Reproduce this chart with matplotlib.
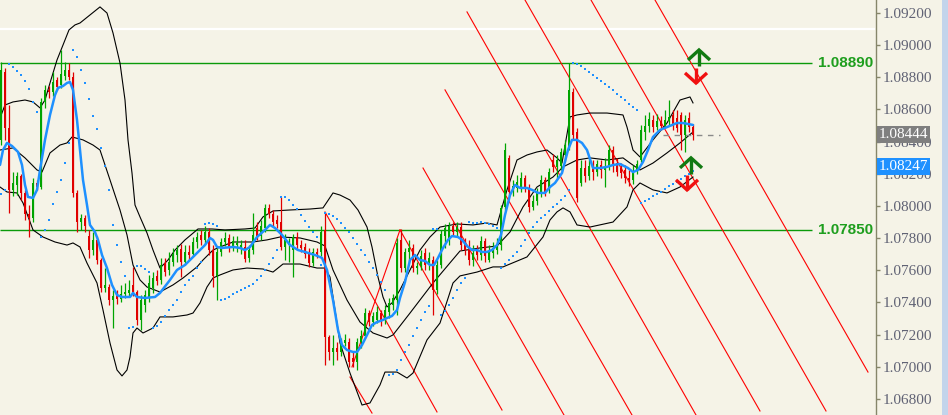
import matplotlib
matplotlib.use('Agg')
import matplotlib.pyplot as plt
from matplotlib.lines import Line2D
from matplotlib.patches import Rectangle
from matplotlib.transforms import IdentityTransform
import numpy as np

# ---------------- data (EURUSD-like candles) ----------------
opens = [1.08411,1.08833,1.08485,1.08100,1.08131,1.08187,1.08081,1.07950,1.07925,1.08143,
1.08118,1.08647,1.08722,1.08709,1.08784,1.08753,1.08809,1.08846,1.08802,1.08081,
1.07900,1.07925,1.07813,1.07726,1.07789,1.07664,1.07490,1.07496,1.07415,1.07440,
1.07422,1.07453,1.07459,1.07509,1.07465,1.07291,1.07384,1.07428,1.07490,1.07565,
1.07540,1.07645,1.07602,1.07652,1.07695,1.07733,1.07652,1.07714,1.07701,1.07776,
1.07820,1.07789,1.07838,1.07726,1.07565,1.07714,1.07776,1.07801,1.07739,1.07757,
1.07739,1.07745,1.07677,1.07726,1.07863,1.07813,1.07863,1.07988,1.07950,1.07913,
1.07900,1.07745,1.07757,1.07726,1.07807,1.07757,1.07745,1.07714,1.07645,1.07714,
1.07714,1.07851,1.07185,1.07092,1.07117,1.07092,1.07148,1.07154,1.07055,1.07030,
1.07154,1.07191,1.07334,1.07278,1.07291,1.07334,1.07291,1.07341,1.07384,1.07415,
1.07789,1.07614,1.07714,1.07739,1.07614,1.07627,1.07708,1.07633,1.07664,1.07478,
1.07633,1.07813,1.07789,1.07876,1.07838,1.07869,1.07776,1.07739,1.07664,1.07726,
1.07695,1.07782,1.07664,1.07708,1.07726,1.07757,1.07994,1.08299,1.08087,1.08112,
1.08112,1.08174,1.08112,1.07994,1.08031,1.08075,1.08162,1.08112,1.08286,1.08243,
1.08249,1.08317,1.08367,1.08709,1.08460,1.08143,1.08236,1.08187,1.08249,1.08211,
1.08255,1.08224,1.08243,1.08348,1.08267,1.08236,1.08224,1.08174,1.08162,1.08218,
1.08286,1.08460,1.08498,1.08535,1.08491,1.08529,1.08498,1.08529,1.08566,1.08547,
1.08566,1.08442,1.08547,1.08491]
highs = [1.08896,1.08858,1.08628,1.08211,1.08211,1.08199,1.08100,1.08006,1.08174,1.08162,
1.08672,1.08753,1.08746,1.08833,1.08802,1.08970,1.08896,1.08889,1.08833,1.08100,
1.07950,1.07944,1.07851,1.07838,1.07813,1.07677,1.07614,1.07515,1.07478,1.07478,
1.07509,1.07521,1.07540,1.07621,1.07478,1.07446,1.07478,1.07571,1.07589,1.07602,
1.07677,1.07677,1.07714,1.07739,1.07757,1.07764,1.07757,1.07757,1.07807,1.07838,
1.07851,1.07876,1.07863,1.07757,1.07739,1.07801,1.07838,1.07826,1.07813,1.07813,
1.07789,1.07789,1.07757,1.07956,1.07900,1.07913,1.08012,1.08012,1.07975,1.07944,
1.08056,1.07826,1.07801,1.07826,1.07838,1.07789,1.07770,1.07739,1.07739,1.07739,
1.07876,1.07963,1.07198,1.07198,1.07154,1.07179,1.07204,1.07179,1.07092,1.07179,
1.07229,1.07366,1.07353,1.07341,1.07378,1.07353,1.07384,1.07428,1.07453,1.07801,
1.07857,1.07739,1.07789,1.07764,1.07652,1.07726,1.07739,1.07714,1.07689,1.07664,
1.07851,1.07888,1.07900,1.07900,1.07900,1.07900,1.07801,1.07789,1.07757,1.07757,
1.07813,1.07801,1.07757,1.07776,1.07801,1.08006,1.08392,1.08317,1.08162,1.08193,
1.08211,1.08193,1.08137,1.08068,1.08112,1.08193,1.08180,1.08236,1.08323,1.08317,
1.08361,1.08411,1.08889,1.08734,1.08485,1.08286,1.08286,1.08299,1.08286,1.08286,
1.08286,1.08299,1.08379,1.08373,1.08299,1.08267,1.08255,1.08224,1.08255,1.08286,
1.08504,1.08566,1.08585,1.08566,1.08572,1.08560,1.08597,1.08659,1.08597,1.08597,
1.08585,1.08566,1.08585,1.08510]
lows = [1.08379,1.08411,1.07956,1.08062,1.08068,1.08037,1.07913,1.07807,1.07900,1.08100,
1.08106,1.08610,1.08672,1.08684,1.08722,1.08734,1.08784,1.08784,1.08056,1.07838,
1.07851,1.07838,1.07677,1.07695,1.07639,1.07465,1.07465,1.07384,1.07241,1.07390,
1.07403,1.07428,1.07440,1.07440,1.07260,1.07229,1.07341,1.07403,1.07459,1.07509,
1.07515,1.07565,1.07571,1.07627,1.07652,1.07558,1.07633,1.07664,1.07689,1.07739,
1.07757,1.07764,1.07695,1.07496,1.07415,1.07689,1.07751,1.07714,1.07720,1.07714,
1.07701,1.07652,1.07652,1.07701,1.07789,1.07789,1.07838,1.07925,1.07876,1.07863,
1.07726,1.07664,1.07652,1.07558,1.07726,1.07714,1.07677,1.07621,1.07627,1.07677,
1.07689,1.07011,1.07042,1.07011,1.07042,1.07067,1.07129,1.06999,1.06999,1.06980,
1.07117,1.07179,1.07254,1.07254,1.07272,1.07254,1.07266,1.07303,1.07353,1.07322,
1.07589,1.07589,1.07652,1.07589,1.07577,1.07602,1.07602,1.07602,1.07322,1.07453,
1.07614,1.07739,1.07757,1.07813,1.07813,1.07726,1.07695,1.07633,1.07627,1.07664,
1.07664,1.07652,1.07652,1.07677,1.07701,1.07726,1.07975,1.08062,1.08062,1.08087,
1.08087,1.08087,1.07963,1.07975,1.08006,1.08056,1.08062,1.08081,1.08211,1.08174,
1.08224,1.08274,1.08348,1.08411,1.08025,1.08124,1.08149,1.08162,1.08162,1.08187,
1.08174,1.08118,1.08224,1.08211,1.08187,1.08174,1.08143,1.08124,1.08137,1.08199,
1.08274,1.08411,1.08460,1.08460,1.08473,1.08473,1.08485,1.08498,1.08473,1.08460,
1.08348,1.08336,1.08460,1.08411]
closes = [1.08846,1.08485,1.08100,1.08143,1.08187,1.08081,1.07950,1.07925,1.08143,1.08118,
1.08647,1.08722,1.08709,1.08771,1.08740,1.08821,1.08846,1.08802,1.08081,1.07900,
1.07925,1.07876,1.07726,1.07789,1.07664,1.07490,1.07509,1.07415,1.07440,1.07422,
1.07453,1.07465,1.07478,1.07465,1.07291,1.07415,1.07446,1.07521,1.07552,1.07534,
1.07633,1.07589,1.07652,1.07701,1.07726,1.07652,1.07714,1.07695,1.07776,1.07807,
1.07789,1.07838,1.07726,1.07565,1.07714,1.07776,1.07801,1.07739,1.07782,1.07770,
1.07757,1.07670,1.07726,1.07820,1.07813,1.07876,1.07988,1.07950,1.07900,1.07888,
1.07745,1.07789,1.07776,1.07807,1.07757,1.07739,1.07701,1.07645,1.07714,1.07701,
1.07838,1.07185,1.07092,1.07117,1.07092,1.07148,1.07167,1.07030,1.07030,1.07154,
1.07191,1.07334,1.07278,1.07316,1.07341,1.07291,1.07353,1.07397,1.07428,1.07770,
1.07614,1.07714,1.07739,1.07614,1.07627,1.07689,1.07633,1.07677,1.07478,1.07633,
1.07826,1.07863,1.07876,1.07838,1.07869,1.07757,1.07726,1.07664,1.07708,1.07695,
1.07782,1.07689,1.07714,1.07739,1.07757,1.07988,1.08348,1.08087,1.08124,1.08149,
1.08174,1.08112,1.07994,1.08031,1.08081,1.08162,1.08087,1.08211,1.08243,1.08286,
1.08336,1.08379,1.08722,1.08442,1.08050,1.08236,1.08187,1.08249,1.08211,1.08261,
1.08224,1.08236,1.08348,1.08255,1.08211,1.08205,1.08174,1.08162,1.08218,1.08261,
1.08473,1.08498,1.08541,1.08491,1.08529,1.08498,1.08535,1.08554,1.08498,1.08485,
1.08442,1.08535,1.08491,1.08444]

# Bollinger bands (bar position -> price)
bb_up_x = [-0.25,1,3,6,8,9.75,11,12.25,14,15.5,17,18.5,19.75,22.25,24.75,26.5,28,29.75,31,31.75,
32.75,33.5,34.75,36.5,38,39.75,41.75,43.5,46,49.25,52.75,56,61,63.5,65.5,68,72.25,77.25,80.5,81.5,
83,84.75,87.25,89.25,91.5,92.75,94.25,95.5,96.5,97.75,99.75,102.25,104.75,107.25,109.75,114,118,121.5,124,126.5,
129,131.5,134,136.5,139,140.25,141.25,142.25,144,147.25,151.5,155.5,156.5,158,159.75,163,166.5,169.75,172.25,173]
bb_up_y = [1.08547,1.08628,1.08647,1.08659,1.08647,1.08610,1.08659,1.08765,1.08908,1.09001,
1.09095,1.09126,1.09138,1.09188,1.09238,1.09200,1.09076,1.08889,1.08659,1.08411,
1.08205,1.08006,1.07932,1.07832,1.07726,1.07614,1.07664,1.07726,1.07789,1.07857,
1.07857,1.07851,1.07857,1.07863,1.07932,1.07969,1.07975,1.07981,1.07988,1.08025,
1.08081,1.08068,1.08037,1.07975,1.07869,1.07745,1.07558,1.07434,1.07372,1.07397,
1.07478,1.07602,1.07726,1.07807,1.07869,1.07888,1.07882,1.07894,1.07882,1.08100,
1.08286,1.08317,1.08336,1.08348,1.08299,1.08267,1.08411,1.08554,1.08566,1.08578,
1.08578,1.08566,1.08491,1.08348,1.08305,1.08411,1.08516,1.08659,1.08678,1.08641]
bb_mid_x = [-0.25,3,6,9,10.25,12.25,14.75,16.5,17.75,20.5,23,24.75,26,27.25,28.5,29.75,31.5,33,34.75,36.5,
39.75,43,45.5,49,50.5,53,54.75,58,63,66.5,69.75,74.75,79,81,83,86.5,89.75,93,96.5,98,
102.25,108,114.75,119.75,124,127.25,130.5,134,138,140.5,144,147.25,151.5,155.5,157.25,159.75,163,166.5,169.75,173]
bb_mid_y = [1.08348,1.08361,1.08299,1.08224,1.08211,1.08330,1.08379,1.08392,1.08429,1.08411,
1.08379,1.08348,1.08255,1.08162,1.08068,1.07975,1.07820,1.07633,1.07540,1.07496,
1.07465,1.07509,1.07552,1.07621,1.07664,1.07726,1.07745,1.07776,1.07776,1.07789,
1.07807,1.07801,1.07776,1.07751,1.07602,1.07415,1.07278,1.07210,1.07179,1.07198,
1.07334,1.07521,1.07720,1.07739,1.07751,1.07838,1.07994,1.08118,1.08180,1.08243,
1.08286,1.08299,1.08286,1.08299,1.08267,1.08224,1.08267,1.08330,1.08392,1.08460]
bb_low_x = [-0.25,1.5,4,5.5,8,10.5,13.5,16.5,18,19.75,21.5,24,25.5,27.25,29,30.25,31.5,32.25,33,34,
35.5,38,39.75,43,46.5,48,49.75,51.5,53,54.75,58,61.5,65.5,68,70.5,74.75,79,81,82.25,84.75,
87.25,90.25,92.25,94.75,96,99,101.5,103,106.5,109.75,113,114.75,119,123,125.5,131.5,135.5,137.25,139,140.5,
142.25,144,147.25,153,156.5,158,159.75,163,166.5,169.75,173]
bb_low_y = [1.08118,1.08087,1.08081,1.08019,1.07851,1.07807,1.07776,1.07757,1.07770,1.07745,
1.07645,1.07521,1.07353,1.07148,1.06980,1.06943,1.06980,1.07061,1.07210,1.07241,
1.07210,1.07241,1.07310,1.07310,1.07322,1.07334,1.07397,1.07496,1.07552,1.07571,
1.07602,1.07614,1.07608,1.07589,1.07639,1.07639,1.07614,1.07614,1.07558,1.07148,
1.06961,1.06762,1.06775,1.06887,1.06967,1.06967,1.06930,1.06961,1.07167,1.07272,
1.07521,1.07565,1.07589,1.07621,1.07621,1.07683,1.07807,1.07913,1.07963,1.07988,
1.07963,1.07882,1.07869,1.07900,1.07994,1.08100,1.08143,1.08100,1.08081,1.08118,
1.08180]

# fast moving average (blue line)
ma_x = [-0.25,0.5,1.5,2.75,4.25,5.25,6,6.75,8,9,9.75,11,12.25,13.5,14.25,15.5,16.5,17.25,18,19,
19.75,20.5,21.5,22.25,23.5,24.25,25.25,26.5,27.75,29,30.25,32.25,33,34,36,38.5,39.75,42.25,44,46,
48.5,51,52.25,53,54,55.25,58,59.75,61,62.25,64,66,67.25,68.5,70.25,72.25,74.25,76,78.5,80.25,
81.5,83,84.25,85.25,86.5,88,89,90.25,91.5,92.75,94,95.5,96.5,97.75,99,99.75,101,102.25,103.5,104.75,
106,107.25,108.25,109.25,110.5,111.75,112.75,114.25,115.25,116.5,117.75,119,120.25,121.5,122.75,124,125,126,127.25,128.5,
129.75,131.5,132.75,134.25,136,137.25,138.5,140.25,141.75,142.75,144,145.25,146.5,148,149.75,151.5,153,154.75,156.75,158,
159.25,160.5,161.75,163,164.75,166.5,169,170.5,173]
ma_y = [1.08255,1.08348,1.08392,1.08373,1.08336,1.08255,1.08131,1.08056,1.08050,1.08100,
1.08224,1.08411,1.08566,1.08690,1.08734,1.08746,1.08765,1.08771,1.08722,1.08535,
1.08348,1.08162,1.08006,1.07882,1.07838,1.07789,1.07695,1.07614,1.07509,1.07446,
1.07434,1.07434,1.07459,1.07434,1.07428,1.07434,1.07459,1.07540,1.07602,1.07633,
1.07695,1.07757,1.07801,1.07789,1.07745,1.07739,1.07745,1.07739,1.07726,1.07745,
1.07807,1.07851,1.07882,1.07863,1.07820,1.07757,1.07726,1.07714,1.07695,1.07677,
1.07602,1.07415,1.07229,1.07135,1.07104,1.07092,1.07092,1.07135,1.07198,1.07260,
1.07278,1.07291,1.07303,1.07316,1.07353,1.07428,1.07527,1.07664,1.07695,1.07664,
1.07658,1.07633,1.07633,1.07677,1.07739,1.07789,1.07813,1.07807,1.07789,1.07751,
1.07726,1.07726,1.07714,1.07714,1.07726,1.07757,1.07820,1.07944,1.08068,1.08131,
1.08112,1.08112,1.08100,1.08081,1.08081,1.08118,1.08143,1.08205,1.08348,1.08411,
1.08411,1.08392,1.08348,1.08236,1.08236,1.08243,1.08255,1.08261,1.08236,1.08211,
1.08224,1.08274,1.08348,1.08429,1.08473,1.08491,1.08516,1.08516,1.08504]

# parabolic SAR, one dot per bar
sar = [1.08075,1.08100,1.08883,1.08865,1.08840,1.08815,1.08778,1.08728,1.08647,1.08585,
1.07807,1.07851,1.07913,1.08012,1.08087,1.08162,1.08267,1.08392,1.08970,1.08927,
1.08846,1.08765,1.08666,1.08560,1.08479,1.08361,1.08249,1.08100,1.07882,1.07757,
1.07652,1.07565,1.07241,1.07247,1.07627,1.07627,1.07608,1.07589,1.07241,1.07254,
1.07278,1.07316,1.07353,1.07384,1.07415,1.07465,1.07509,1.07540,1.07565,1.07614,
1.07652,1.07888,1.07894,1.07888,1.07876,1.07415,1.07422,1.07434,1.07453,1.07465,
1.07478,1.07490,1.07502,1.07515,1.07540,1.07565,1.07602,1.07639,1.07677,1.07726,
1.08056,1.08056,1.08037,1.08006,1.07981,1.07944,1.07907,1.07869,1.07838,1.07807,
1.07633,1.07956,1.07950,1.07938,1.07919,1.07894,1.07863,1.07838,1.07801,1.07764,
1.07726,1.07695,1.07652,1.07614,1.07571,1.07527,1.07478,1.06949,1.06955,1.06980,
1.07042,1.07092,1.07135,1.07191,1.07241,1.07291,1.07341,1.07378,1.07857,1.07857,
1.07322,1.07347,1.07384,1.07428,1.07478,1.07521,1.07552,1.07900,1.07894,1.07894,
1.07900,1.07894,1.07888,1.07876,1.07863,1.07614,1.07639,1.07664,1.07689,1.07714,
1.07751,1.07789,1.07832,1.07869,1.07900,1.07925,1.07944,1.07969,1.07994,1.08012,
1.08037,1.08062,1.08100,1.08889,1.08883,1.08871,1.08852,1.08833,1.08815,1.08796,
1.08778,1.08759,1.08740,1.08722,1.08697,1.08678,1.08659,1.08634,1.08616,1.08597,
1.08019,1.08031,1.08044,1.08062,1.08075,1.08087,1.08106,1.08124,1.08137,1.08149,
1.08168,1.08187,1.08199,1.08218]

# red trend/channel lines (start bar, start price, end bar, end price)
red_x0 = [163.5, 147.5, 131.0, 116.5, 111.0, 105.5, 99.75, 81.0, 87.25, 87.75]
red_y0 = [1.09281, 1.09281, 1.09281, 1.09207, 1.08722, 1.08236, 1.07851, 1.07963, 1.06936, 1.06999]
red_x1 = [216.75, 206.25, 189.75, 173.75, 157.75, 140.75, 125.25, 109.0, 92.75, 99.75]
red_y1 = [1.06967, 1.06725, 1.06725, 1.06700, 1.06700, 1.06700, 1.06731, 1.06719, 1.06712, 1.07851]

levels = [1.08890, 1.07850]
level_labels = ["1.08890", "1.07850"]
white_level = 1.09100
bid_price = 1.08444
ask_price = 1.08247
bid_label = "1.08444"
ask_label = "1.08247"

arrow_bar = [174.5, 173.75, 172.5, 171.5]
arrow_price = [1.08970, 1.08765, 1.08299, 1.08100]
arrow_dir = ["up", "down", "up", "down"]

yticks = [1.068, 1.070, 1.072, 1.074, 1.076, 1.078, 1.080, 1.082, 1.084, 1.086, 1.088, 1.090, 1.092]

# ---------------- drawing ----------------
BG = '#F5F3E7'
W, H = 948, 415
fig = plt.figure(figsize=(W / 100, H / 100), dpi=100)
fig.patch.set_facecolor(BG)
ax = fig.add_axes([0, 0, 876 / W, 1])
ax.set_facecolor(BG)
ax.set_xlim(-0.25, 218.75)
ax.set_ylim(1.06700, 1.09281)

# white line
ax.hlines(white_level, -0.25, 218.5, colors='white', lw=1.6, zorder=1)

# green levels
for lv in levels:
    ax.hlines(lv, -0.25, 202.75, colors='#0A9A0A', lw=1.0, zorder=2)
for lv, lab in zip(levels, level_labels):
    ax.text(218.0, lv, lab, ha='right', va='center', color='#1E9E1E',
            fontsize=11, fontweight='bold', family='Liberation Sans', zorder=6)

# red lines
for x0, y0, x1, y1 in zip(red_x0, red_y0, red_x1, red_y1):
    ax.plot([x0, x1], [y0, y1], color='#FF0000', lw=0.8, zorder=2)

# bands
ax.plot(bb_up_x, bb_up_y, color='black', lw=0.8, zorder=3)
ax.plot(bb_mid_x, bb_mid_y, color='black', lw=0.8, zorder=3)
ax.plot(bb_low_x, bb_low_y, color='black', lw=0.8, zorder=3)

# candles
o = np.array(opens); h = np.array(highs); l = np.array(lows); c = np.array(closes)
x = np.arange(len(c))
up = c >= o
cols = np.where(up, '#00A400', '#E00000')
ax.vlines(x, l, h, colors=cols, lw=0.9, zorder=4)
body_lo = np.minimum(o, c)
body_h = np.maximum(np.abs(c - o), 0.00006)
ax.bar(x, body_h, bottom=body_lo, width=0.72, color=cols, linewidth=0, zorder=4)

# moving average
ax.plot(ma_x, ma_y, color='#1E90FF', lw=1.8, zorder=5, solid_capstyle='round')

# SAR
ax.scatter(x, sar, marker='s', s=4.2, color='#1E90FF', linewidths=0, zorder=5)

# bid dashed line
ax.hlines(bid_price, 165.5, 179.75, colors='#8A8A8A', lw=1.0, linestyles=(0, (4, 4)), zorder=3)

# axis styling
for s in ['top', 'left', 'bottom']:
    ax.spines[s].set_visible(False)
ax.spines['right'].set_color('#86866A')
ax.spines['right'].set_linewidth(1.0)
ax.set_xticks([])
ax.yaxis.tick_right()
ax.set_yticks(yticks)
ax.set_yticklabels([f"{v:.5f}" for v in yticks])
ax.tick_params(axis='y', direction='out', length=3, width=1, color='#86866A',
               pad=2, labelsize=11, labelcolor='#606274')
for t in ax.get_yticklabels():
    t.set_family('Liberation Serif')

# right scrollbar strip
fig.add_artist(Rectangle((942 / W, 0), 6 / W, 1, transform=fig.transFigure,
                         facecolor='#C3D4EB', edgecolor='none', zorder=0))

# price tags
for price, lab, fc in [(bid_price, bid_label, '#7F7F7F'), (ask_price, ask_label, '#1E90FF')]:
    yd = ax.transData.transform((0, price))[1]
    fig.text(879 / W, yd / H, lab, ha='left', va='center', color='white', fontsize=11,
             family='Liberation Serif', zorder=10,
             bbox=dict(boxstyle='square,pad=0.12', fc=fc, ec='none'))

# arrows
for b, p, d in zip(arrow_bar, arrow_price, arrow_dir):
    px, py = ax.transData.transform((b, p))
    if d == 'up':
        col = '#127A12'
        wings = ([px - 11, px, px + 11], [py - 10, py, py - 10])
        stem = ([px, px], [py, py - 16])
    else:
        col = '#F01010'
        wings = ([px - 11, px, px + 11], [py + 10, py, py + 10])
        stem = ([px, px], [py, py + 15])
    for xs, ys in (wings, stem):
        fig.add_artist(Line2D(xs, ys, transform=IdentityTransform(), color=col,
                              lw=2.4, solid_capstyle='butt', solid_joinstyle='miter', zorder=8))

fig.savefig('out.png', dpi=100, facecolor=BG)
